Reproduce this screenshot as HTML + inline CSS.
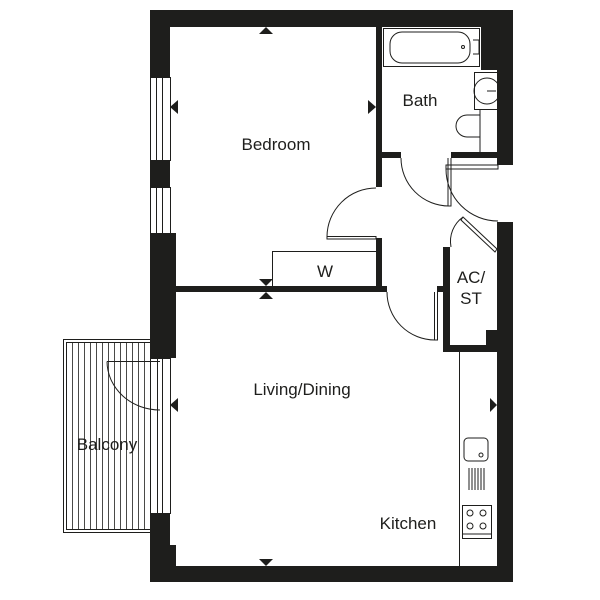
<!DOCTYPE html>
<html><head><meta charset="utf-8"><style>
html,body{margin:0;padding:0;background:#fff;}
svg{display:block;}
text{font-family:"Liberation Sans",sans-serif;fill:#1e1e1c;}
</style></head><body>
<svg width="600" height="600" viewBox="0 0 600 600" xmlns="http://www.w3.org/2000/svg">
<g fill="#1e1e1c">
<!-- top wall -->
<rect x="150" y="10" width="363" height="17"/>
<!-- right wall upper -->
<rect x="497" y="10" width="16" height="155"/>
<rect x="481" y="10" width="32" height="60"/>
<!-- right wall lower -->
<rect x="497" y="222" width="16" height="360"/>
<!-- bottom wall -->
<rect x="150" y="566" width="363" height="16"/>
<!-- left wall pieces -->
<rect x="150" y="10" width="20" height="67"/>
<rect x="150" y="160" width="20" height="27"/>
<rect x="150" y="233" width="26" height="125"/>
<rect x="150" y="513" width="20" height="69"/>
<rect x="150" y="545" width="26" height="37"/>
<!-- bedroom/bath partition -->
<rect x="376" y="27" width="6" height="160"/>
<rect x="376" y="238" width="6" height="54"/>
<!-- bath bottom wall -->
<rect x="376" y="152" width="25" height="6"/>
<rect x="451" y="152" width="47" height="6"/>
<!-- bedroom bottom wall -->
<rect x="176" y="286" width="211" height="6"/>
<rect x="437" y="286" width="6" height="6"/>
<!-- AC/ST walls -->
<rect x="443" y="247" width="7" height="105"/>
<rect x="443" y="345" width="55" height="7"/>
<rect x="486" y="330" width="12" height="20"/>
<!-- arrows -->
<polygon points="259,34 273,34 266,27"/>
<polygon points="259,279 273,279 266,286"/>
<polygon points="259,299 273,299 266,292"/>
<polygon points="170,107 178,100 178,114"/>
<polygon points="376,107 368,100 368,114"/>
<polygon points="170,405 178,398 178,412"/>
<polygon points="497,405 490,398 490,412"/>
<polygon points="259,559 273,559 266,566"/>
</g>
<g fill="none" stroke="#1e1e1c" stroke-width="1">
<!-- windows left -->
<rect x="150.5" y="77.5" width="20" height="83"/>
<rect x="156.5" y="77.5" width="6" height="83"/>
<rect x="150.5" y="187.5" width="20" height="46"/>
<rect x="156.5" y="187.5" width="6" height="46"/>
<rect x="150.5" y="358.5" width="20" height="155"/>
<rect x="157.5" y="358.5" width="5" height="155"/>
<!-- balcony -->
<rect x="63.5" y="339.5" width="87" height="193"/>
<rect x="66.5" y="342.5" width="84" height="187"/>
<path d="M72.5 342v188M78.5 342v188M84.5 342v188M90.5 342v188M96.5 342v188M102.5 342v188M108.5 342v188M114.5 342v188M120.5 342v188M126.5 342v188M132.5 342v188M138.5 342v188M144.5 342v188" stroke-width="0.8"/>
<path d="M107 361.5H160M107 361.5A53 49 0 0 0 160 410"/>
<!-- bedroom door -->
<path d="M327 236.5H376V239H327ZM327 236.5A49 49 0 0 1 376 188"/>
<!-- wardrobe -->
<path d="M272.5 286V251.5H376"/>
<!-- bath door -->
<path d="M448 158V206H451V158M401 158A48 48 0 0 0 449 206"/>
<!-- entrance door -->
<path d="M446 165H498V169H446ZM446 169A52 52 0 0 0 498 221"/>
<!-- hall door to living -->
<path d="M434.5 292V340H437.5V292M387 292A48 48 0 0 0 435 340"/>
<!-- AC door -->
<path d="M463 217L497 249L495 252L461 220ZM451 247A30 30 0 0 1 463 217"/>
<!-- bath tub -->
<rect x="383.5" y="28.5" width="96" height="38"/>
<rect x="390" y="32" width="80" height="31" rx="12"/>
<circle cx="463" cy="47" r="1.5"/>
<path d="M473 40h6v14h-6"/>
<!-- basin -->
<rect x="474.5" y="72.5" width="25" height="37"/>
<circle cx="487" cy="91" r="13"/>
<path d="M487 91h9"/>
<!-- wc -->
<path d="M480 115H467a10 10 0 0 0 0 22H480Z"/>
<path d="M480 110V152"/>
<!-- kitchen -->
<path d="M459.5 352V566"/>
<rect x="464" y="438" width="24" height="23" rx="4"/>
<circle cx="481" cy="455" r="2"/>
<path d="M469 468v22M472 468v22M475 468v22M478 468v22M481 468v22M484 468v22"/>
<rect x="462.5" y="505.5" width="29" height="33"/>
<circle cx="470" cy="513" r="3"/><circle cx="483" cy="513" r="3"/>
<circle cx="470" cy="526" r="3"/><circle cx="483" cy="526" r="3"/>
<path d="M462 534h29"/>
</g>
<g font-size="17" text-anchor="middle">
<text x="276" y="150">Bedroom</text>
<text x="420" y="106">Bath</text>
<text x="325" y="277">W</text>
<text x="471" y="283">AC/</text>
<text x="471" y="304">ST</text>
<text x="302" y="395">Living/Dining</text>
<text x="107" y="450">Balcony</text>
<text x="408" y="529">Kitchen</text>
</g>
</svg>
</body></html>
